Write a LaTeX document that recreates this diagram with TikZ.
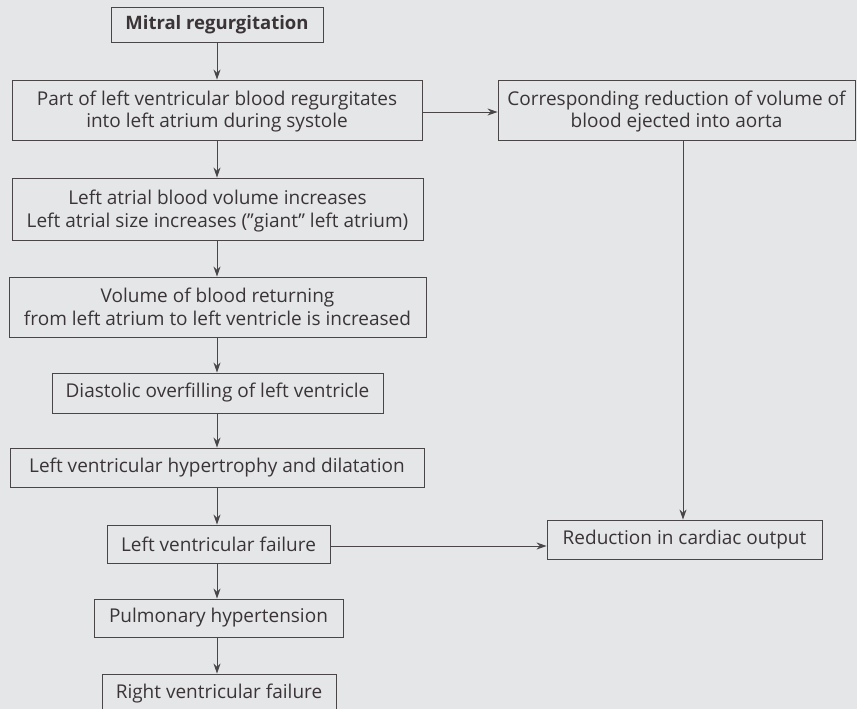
\documentclass[tikz,border=0pt]{standalone}
\usepackage{fontspec}
\setmainfont{Open Sans}
\usetikzlibrary{arrows.meta}
\definecolor{bg}{HTML}{E5E6E8}
\definecolor{ln}{HTML}{4A4648}
\definecolor{tx}{HTML}{3A3437}
\tikzset{
  box/.style={draw=ln, line width=0.9pt, text=tx, align=center, inner sep=0pt,
    font=\fontsize{19}{23}\selectfont},
  twoline/.style={text height=38pt, text depth=2pt},
  arr/.style={draw=ln, line width=0.9pt, -{Stealth[length=10pt,width=7pt]}},
}
\begin{document}
\begin{tikzpicture}[x=1pt,y=-1pt]
\fill[bg] (0,0) rectangle (857,709);
\useasboundingbox (0,0) rectangle (857,709);
\clip (0,0) rectangle (857,709);
\node[box, minimum width=212pt, minimum height=35pt, font=\fontsize{18.5}{22}\selectfont\bfseries] (mr) at (217,24.5) {Mitral regurgitation};
\node[box, twoline, minimum width=410pt, minimum height=60pt] (pl) at (217,110) {Part of left ventricular blood regurgitates\\into left atrium during systole};
\node[box, twoline, minimum width=357pt, minimum height=60pt] (cr) at (676.5,110) {Corresponding reduction of volume of\\blood ejected into aorta};
\node[box, twoline, minimum width=411pt, minimum height=62pt] (la) at (217.5,209) {Left atrial blood volume increases\\Left atrial size increases (”giant” left atrium)};
\node[box, twoline, minimum width=417pt, minimum height=60pt] (vb) at (217.5,307) {Volume of blood returning\\from left atrium to left ventricle is increased};
\node[box, minimum width=331pt, minimum height=40pt] (do) at (217.5,393) {Diastolic overfilling of left ventricle};
\node[box, minimum width=414pt, minimum height=39pt] (lh) at (217,467.5) {Left ventricular hypertrophy and dilatation};
\node[box, minimum width=223pt, minimum height=38pt] (lf) at (218.5,544) {Left ventricular failure};
\node[box, minimum width=249pt, minimum height=38pt] (ph) at (218.5,618) {Pulmonary hypertension};
\node[box, minimum width=234pt, minimum height=40pt] (rf) at (219,694) {Right ventricular failure};
\node[box, minimum width=275pt, minimum height=39pt] (rc) at (684.5,539.5) {Reduction in cardiac output};
\draw[arr] (mr.south) -- (mr.south |- pl.north);
\draw[arr] (mr.south |- pl.south) -- (mr.south |- la.north);
\draw[arr] (mr.south |- la.south) -- (mr.south |- vb.north);
\draw[arr] (mr.south |- vb.south) -- (mr.south |- do.north);
\draw[arr] (mr.south |- do.south) -- (mr.south |- lh.north);
\draw[arr] (mr.south |- lh.south) -- (mr.south |- lf.north);
\draw[arr] (mr.south |- lf.south) -- (mr.south |- ph.north);
\draw[arr] (mr.south |- ph.south) -- (mr.south |- rf.north);
\draw[arr] ([yshift=-2pt]pl.east) -- ([yshift=-2pt]pl.east -| cr.west);
\draw[arr] (683,0 |- cr.south) -- (683,0 |- rc.north);
\draw[arr] ([yshift=-2pt]lf.east) -- ([yshift=-2pt]lf.east -| rc.west);
\end{tikzpicture}
\end{document}
